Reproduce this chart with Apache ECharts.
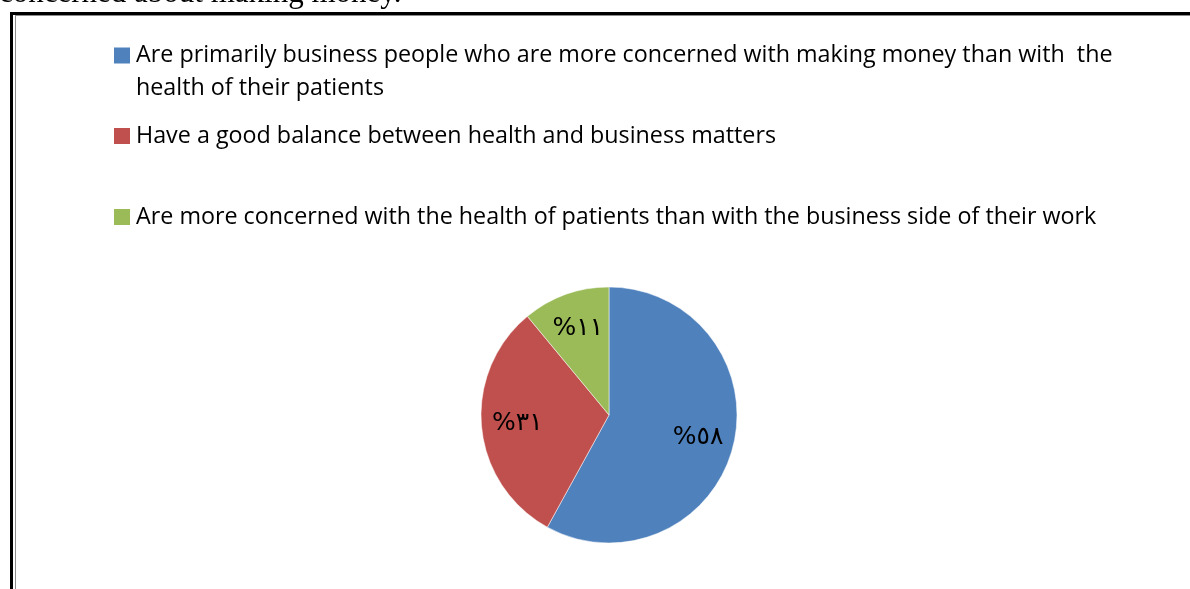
<!DOCTYPE html>
<html>
<head>
<meta charset="utf-8">
<script src="https://cdn.jsdelivr.net/npm/echarts@6/dist/echarts.min.js"></script>
<style>
  html, body { margin: 0; padding: 0; background: #fff; }
  #chart { width: 1190px; height: 589px; }
</style>
</head>
<body>
<div id="chart"></div>
<script>
// Survey answers and their shares (percent)
const categories = [
  'Are primarily business people who are more concerned with making money than with  the health of their patients',
  'Have a good balance between health and business matters',
  'Are more concerned with the health of patients than with the business side of their work'
];
const shares = [58, 31, 11];
const sliceColors = ['#4F81BD', '#C0504D', '#9BBB59'];

// Arabic-Indic digits for the slice labels
const arabicDigits = '٠١٢٣٤٥٦٧٨٩';
function toArabicPercent(v) {
  return '%' + String(v).replace(/\d/g, d => arabicDigits[+d]);
}

const pieData = categories.map((name, i) => ({
  name: name,
  value: shares[i],
  itemStyle: { color: sliceColors[i] }
}));

const legendFont = { fontFamily: 'Open Sans', fontSize: 23.3, color: '#000', lineHeight: 26 };

function legendFor(i, top, extra) {
  return Object.assign({
    show: true,
    orient: 'vertical',
    left: 112,
    top: top,
    padding: 0,
    icon: 'rect',
    itemWidth: 18,
    itemHeight: 18,
    itemGap: 0,
    selectedMode: false,
    data: [categories[i]],
    textStyle: Object.assign({}, legendFont)
  }, extra || {});
}

const chart = echarts.init(document.getElementById('chart'), null, { renderer: 'canvas' });

chart.setOption({
  backgroundColor: '#fff',
  animation: false,
  legend: [
    // first entry wraps onto a second line; the leading blank line keeps
    // the marker level with the first line of text
    legendFor(0, 6, {
      formatter: () => '\nAre primarily business people who are more concerned with making money than with  the\nhealth of their patients',
      textStyle: Object.assign({}, legendFont, { lineHeight: 33 })
    }),
    legendFor(1, 123),
    legendFor(2, 204)
  ],
  graphic: [
    // caption text from the page above the frame
    { type: 'text', left: -1, top: -22, silent: true,
      style: { text: 'concerned about making money.', font: '31px "Liberation Serif"', fill: '#000' } },
    // frame: outer black rule and inner grey rule
    { type: 'rect', silent: true, shape: { x: 10, y: 12, width: 1190, height: 3 }, style: { fill: '#000' } },
    { type: 'rect', silent: true, shape: { x: 10, y: 12, width: 3, height: 600 }, style: { fill: '#000' } },
    { type: 'rect', silent: true, shape: { x: 15, y: 15, width: 1190, height: 1 }, style: { fill: '#8c8c8c' } },
    { type: 'rect', silent: true, shape: { x: 15, y: 15, width: 1, height: 600 }, style: { fill: '#8c8c8c' } }
  ],
  series: [
    {
      type: 'pie',
      center: [609, 415],
      radius: [0, 128],
      startAngle: 90,
      clockwise: true,
      silent: true,
      data: pieData,
      label: { show: false },
      labelLine: { show: false },
      itemStyle: { borderColor: '#fff', borderWidth: 0.5 },
      emphasis: { disabled: true }
    },
    {
      // label carrier: same slices, transparent, placed so the labels sit at ~70% radius
      type: 'pie',
      center: [609, 415],
      radius: [0, 178],
      startAngle: 90,
      clockwise: true,
      silent: true,
      z: 3,
      data: categories.map((name, i) => ({ name: name, value: shares[i] })),
      itemStyle: { color: 'rgba(0,0,0,0)' },
      label: {
        show: true,
        position: 'inside',
        formatter: p => toArabicPercent(p.value),
        fontFamily: 'DejaVu Sans',
        fontSize: 25,
        color: '#000'
      },
      labelLine: { show: false },
      emphasis: { disabled: true }
    }
  ]
});
</script>
</body>
</html>
